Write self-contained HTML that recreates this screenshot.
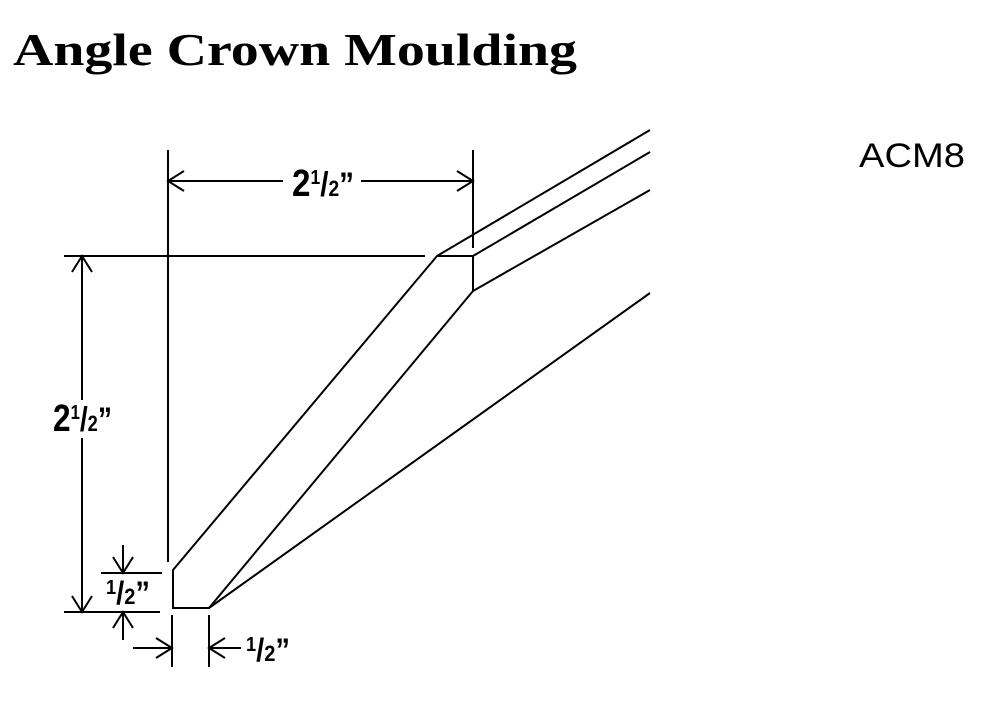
<!DOCTYPE html>
<html><head><meta charset="utf-8"><style>html,body{margin:0;padding:0;background:#fff}svg{display:block}</style></head>
<body>
<svg width="990" height="708" viewBox="0 0 990 708" xmlns="http://www.w3.org/2000/svg">
<text x="13" y="65" font-family="Liberation Serif, serif" font-weight="bold" font-size="46" textLength="564" lengthAdjust="spacingAndGlyphs">Angle Crown Moulding</text>
<text x="859" y="167" font-family="Liberation Sans, sans-serif" font-size="34" textLength="106" lengthAdjust="spacingAndGlyphs">ACM8</text>
<g stroke="#000" stroke-width="2" fill="none" stroke-linecap="butt">
<line x1="168" y1="150" x2="168" y2="562"/>
<line x1="473" y1="150" x2="473" y2="248"/>
<line x1="64" y1="256" x2="425" y2="256"/>
<line x1="64" y1="612" x2="160" y2="612"/>
<line x1="101" y1="573" x2="162" y2="573"/>
<line x1="172" y1="615" x2="172" y2="667"/>
<line x1="209" y1="615" x2="209" y2="667"/>
<polyline points="650,130 437,256 173,570 173,608 209,608 473,291 650,190"/>
<polyline points="437,256 473,256 650,152"/>
<line x1="473" y1="256" x2="473" y2="291"/>
<line x1="209" y1="608" x2="650" y2="293"/>
<line x1="168" y1="181" x2="283" y2="181"/>
<line x1="361" y1="181" x2="473" y2="181"/>
<polyline points="184,171 168,181 184,191"/>
<polyline points="457,171 473,181 457,191"/>
<line x1="82" y1="256" x2="82" y2="400"/>
<line x1="82" y1="438" x2="82" y2="612"/>
<polyline points="72,272 82,256 92,272"/>
<polyline points="72,596 82,612 92,596"/>
<line x1="123" y1="545" x2="123" y2="573"/>
<polyline points="113,557 123,573 133,557"/>
<line x1="123" y1="612" x2="123" y2="640"/>
<polyline points="113,628 123,612 133,628"/>
<line x1="133" y1="648" x2="172" y2="648"/>
<polyline points="156,638 172,648 156,658"/>
<line x1="209" y1="648" x2="241" y2="648"/>
<polyline points="225,638 209,648 225,658"/>
</g>
<g font-family="Liberation Sans, sans-serif" font-weight="bold" fill="#000">
<text x="292" y="196" font-size="38" textLength="62" lengthAdjust="spacingAndGlyphs">2<tspan font-size="20" dy="-12">1</tspan><tspan font-size="34" dy="12">/</tspan><tspan font-size="22">2</tspan><tspan font-size="34">”</tspan></text>
<text x="53" y="431" font-size="38" textLength="59" lengthAdjust="spacingAndGlyphs">2<tspan font-size="20" dy="-12">1</tspan><tspan font-size="34" dy="12">/</tspan><tspan font-size="22">2</tspan><tspan font-size="34">”</tspan></text>
<text x="106" y="604" font-size="20" textLength="44" lengthAdjust="spacingAndGlyphs"><tspan dy="-10">1</tspan><tspan font-size="32" dy="10">/</tspan><tspan font-size="22">2</tspan><tspan font-size="32">”</tspan></text>
<text x="246" y="661" font-size="20" textLength="44" lengthAdjust="spacingAndGlyphs"><tspan dy="-10">1</tspan><tspan font-size="32" dy="10">/</tspan><tspan font-size="22">2</tspan><tspan font-size="32">”</tspan></text>
</g>
</svg>
</body></html>
